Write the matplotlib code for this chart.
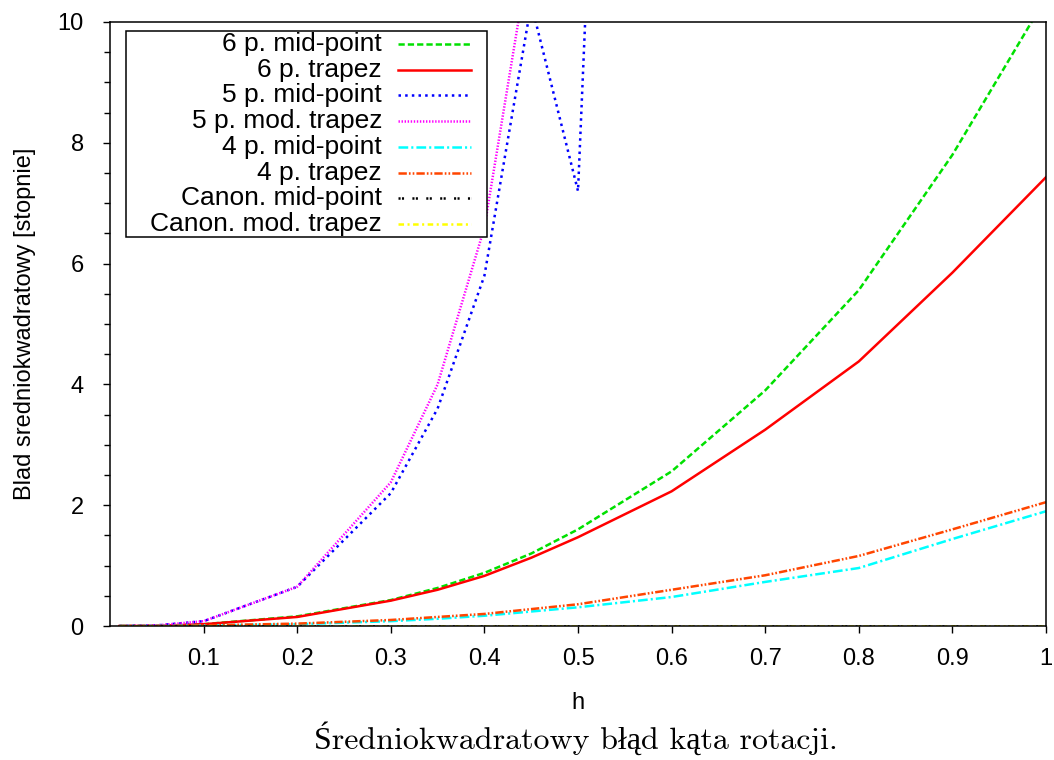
import numpy as np
import matplotlib
matplotlib.use('Agg')
import matplotlib.pyplot as plt
from matplotlib.patches import Rectangle

plt.rcParams['font.family'] = ['Liberation Sans', 'DejaVu Sans']
plt.rcParams['lines.scale_dashes'] = False

# dane
h = [0.01, 0.05, 0.1, 0.2, 0.3, 0.35, 0.4, 0.45, 0.5, 0.6, 0.7, 0.8, 0.9, 1.0]
mid6 = [0, 0.002, 0.03, 0.16, 0.43, 0.63, 0.88, 1.2, 1.6, 2.56, 3.9, 5.56, 7.8, 10.4]
trap6 = [0, 0.002, 0.03, 0.15, 0.42, 0.6, 0.83, 1.13, 1.47, 2.23, 3.25, 4.38, 5.85, 7.43]
mid5 = [0, 0.01, 0.08, 0.65, 2.2, 3.6, 5.8, 10.3, 7.2, 44.0]
trap5mod = [0, 0.01, 0.08, 0.65, 2.38, 4.0, 6.6, 11.3]
mid4 = [0, 0.001, 0.01, 0.03, 0.08, 0.12, 0.17, 0.24, 0.31, 0.48, 0.73, 0.96, 1.44, 1.9]
trap4 = [0, 0.001, 0.01, 0.04, 0.1, 0.15, 0.2, 0.28, 0.36, 0.6, 0.84, 1.16, 1.6, 2.05]
canon_mid = [0] * len(h)
canon_trap = [0] * len(h)

labels = ['6 p. mid-point', '6 p. trapez', '5 p. mid-point', '5 p. mod. trapez',
          '4 p. mid-point', '4 p. trapez', 'Canon. mid-point', 'Canon. mod. trapez']
series = [mid6, trap6, mid5, trap5mod, mid4, trap4, canon_mid, canon_trap]
colors = ['#00e000', '#ff0000', '#0000ff', '#ff00ff', '#00ffff', '#ff4500', '#000000', '#ffff00']
styles = [(0, (4.5, 2.2)), '-', (0, (1.8, 3.0)), (0, (1.0, 1.2)),
          (0, (7, 2.2, 1.5, 2.2)), (0, (6, 1.5, 1.2, 1.5, 1.2, 1.5)),
          (0, (1.5, 1.0, 1.5, 6.0)), (0, (4, 2.5, 1.5, 2.5))]

fig = plt.figure(figsize=(10.54, 7.6), dpi=100)
ax = fig.add_axes([0.1044, 0.1763, 0.888, 0.7948])

for y, lab, c, ls in zip(series, labels, colors, styles):
    ax.plot(h[:len(y)], y, color=c, linestyle=ls, linewidth=1.8, label=lab)

ax.set_xlim(0, 1)
ax.set_ylim(0, 10)
ax.set_xticks([0.1, 0.2, 0.3, 0.4, 0.5, 0.6, 0.7, 0.8, 0.9, 1.0])
ax.set_xticklabels(['0.1', '0.2', '0.3', '0.4', '0.5', '0.6', '0.7', '0.8', '0.9', '1'])
ax.set_yticks([0, 2, 4, 6, 8, 10])
ax.set_yticks(np.arange(0, 10.01, 0.5), minor=True)
ax.tick_params(axis='both', which='major', direction='out', length=5, width=1,
               labelsize=17, top=False, right=False)
ax.tick_params(axis='y', which='major', pad=14)
ax.tick_params(axis='x', which='major', pad=11)
ax.tick_params(axis='y', which='minor', direction='out', length=4, width=1)
for s in ax.spines.values():
    s.set_linewidth(1.1)

ax.set_xlabel('h', fontsize=17, labelpad=16)
fig.text(25 / 1054, 1 - 324 / 760, 'Blad sredniokwadratowy [stopnie]', rotation=90,
         ha='center', va='center', fontsize=17)

# legenda w stylu gnuplota: tekst wyrownany do prawej, probka linii po prawej
ax.add_patch(Rectangle((0.0171, 0.644), 0.3857, 0.341, transform=ax.transAxes,
                       facecolor='white', edgecolor='black', linewidth=1.1, zorder=5))
for i, (lab, c, ls) in enumerate(zip(labels, colors, styles)):
    yy = (626 - (44 + 25.75 * i)) / 604
    ax.text(0.2906, yy, lab, transform=ax.transAxes, ha='right', va='center',
            fontsize=19, zorder=6)
    ax.plot([0.3077, 0.3857], [yy, yy], transform=ax.transAxes, color=c,
            linestyle=ls, linewidth=1.8, zorder=6, clip_on=False)

fig.text(0.5465, 1 - 738 / 760, 'Średniokwadratowy błąd kąta rotacji.',
         ha='center', va='center', fontsize=23, family=['cmr10', 'Liberation Serif'])

fig.savefig('out.png', dpi=100)
